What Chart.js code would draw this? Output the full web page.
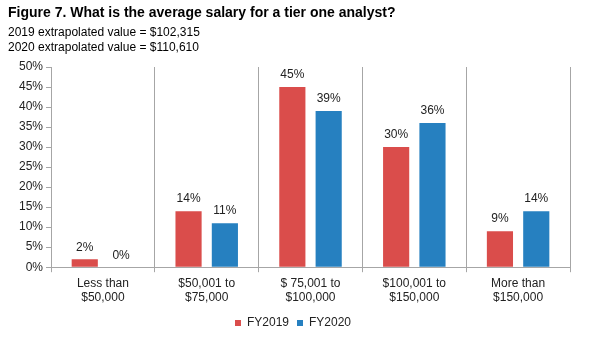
<!DOCTYPE html>
<html>
<head>
<meta charset="utf-8">
<script src="https://cdn.jsdelivr.net/npm/chart.js@4/dist/chart.umd.min.js"></script>
<style>
  body { margin: 0; background: #fff; font-family: Arial, "Liberation Sans", sans-serif; }
  #wrap { position: relative; width: 594px; height: 353px; }
  #head { position: absolute; left: 8px; top: 4px; color: #000; }
  #head .t { font-weight: bold; font-size: 14px; line-height: 17px; margin-bottom: 4px; }
  #head .s { font-size: 12px; line-height: 14.5px; }
  canvas { position: absolute; left: 0; top: 0; }
</style>
</head>
<body>
<div id="wrap">
  <canvas id="myChart" width="594" height="353"></canvas>
  <div id="head">
    <div class="t">Figure 7. What is the average salary for a tier one analyst?</div>
    <div class="s">2019 extrapolated value = $102,315</div>
    <div class="s">2020 extrapolated value = $110,610</div>
  </div>
</div>
<script>
const ctx = document.getElementById("myChart").getContext('2d')

const labels = [
  ["Less than", "$50,000"],
  ["$50,001 to", "$75,000"],
  ["$ 75,001 to", "$100,000"],
  ["$100,001 to", "$150,000"],
  ["More than", "$150,000"]
]

const fy2019 = [2, 14, 45, 30, 9]
const fy2020 = [0, 11, 39, 36, 14]

const yTicks = [0, 5, 10, 15, 20, 25, 30, 35, 40, 45, 50]

const font = { size: 12, family: 'Arial, "Liberation Sans", sans-serif' }

const data = {
  labels,
  datasets: [
    {
      data: fy2019,
      label: "FY2019",
      backgroundColor: 'rgb(218, 77, 75)',
      categoryPercentage: 0.7,
      barPercentage: 0.72
    },
    {
      data: fy2020,
      label: "FY2020",
      backgroundColor: 'rgb(38, 128, 192)',
      categoryPercentage: 0.7,
      barPercentage: 0.72
    }
  ]
}

// value labels above each bar
const valueLabels = {
  id: 'value_labels',
  afterDatasetsDraw: (chart) => {
    const c = chart.ctx
    c.save()
    c.font = '12px Arial, "Liberation Sans", sans-serif'
    c.fillStyle = '#222'
    c.textAlign = 'center'
    c.textBaseline = 'bottom'
    chart.data.datasets.forEach((ds, i) => {
      chart.getDatasetMeta(i).data.forEach((bar, j) => {
        c.fillText(ds.data[j] + '%', bar.x, bar.y - 6)
      })
    })
    c.restore()
  }
}

const option = {
  responsive: false,
  animation: false,
  layout: {
    padding: { top: 67, right: 24, left: 16, bottom: 14 }
  },
  plugins: {
    legend: {
      position: 'bottom',
      labels: {
        boxWidth: 6,
        boxHeight: 6,
        padding: 8,
        color: '#222',
        font
      }
    },
    tooltip: { enabled: false }
  },
  scales: {
    x: {
      grid: {
        color: '#a6a6a6',
        offset: true,
        drawTicks: true,
        tickLength: 5
      },
      border: { color: '#a6a6a6' },
      ticks: {
        color: '#222',
        padding: 4,
        font
      }
    },
    y: {
      min: 0,
      max: 50,
      afterBuildTicks: (axis) => {
        axis.ticks = yTicks.map(v => ({ value: v }))
      },
      grid: {
        drawOnChartArea: false,
        drawTicks: true,
        tickLength: 5,
        color: '#a6a6a6'
      },
      border: { color: '#a6a6a6' },
      ticks: {
        color: '#222',
        padding: 3,
        callback: (v) => v + '%',
        font
      }
    }
  }
}

const config = {
  type: 'bar',
  data: data,
  options: option,
  plugins: [valueLabels]
}

const myChart = new Chart(ctx, config)
</script>
</body>
</html>
